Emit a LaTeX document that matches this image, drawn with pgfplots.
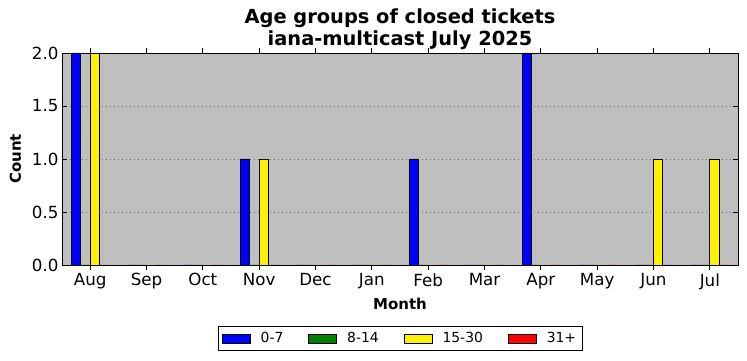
\documentclass[border=0pt]{standalone}
\usepackage{fontspec}
\setmainfont{DejaVu Sans}
\usepackage{pgfplots}
\pgfplotsset{compat=1.18}
\definecolor{bgGray}{RGB}{191,191,191}
\definecolor{mplGreen}{RGB}{0,128,0}
\begin{document}
\begin{tikzpicture}[x=1pt,y=1pt]
\path[use as bounding box] (0,0) rectangle (747,361);
\begin{axis}[
  at={(62pt,96pt)}, anchor=south west,
  scale only axis, width=676pt, height=212pt,
  xmin=-0.5, xmax=11.5, ymin=0, ymax=2,
  axis background/.style={fill=bgGray},
  axis line style={black, line width=0.9pt},
  xtick={0,...,11},
  xticklabels={Aug,Sep,Oct,Nov,Dec,Jan,Feb,Mar,Apr,May,Jun,Jul},
  ytick={0,0.5,1,1.5,2},
  yticklabel style={/pgf/number format/.cd, fixed, fixed zerofill, precision=1, assume math mode=true},
  tick label style={font=\fontsize{16.7}{18}\selectfont},
  tick align=inside, major tick length=5pt,
  tick style={black, line width=0.8pt},
  xtick pos=both, ytick pos=both,
  ymajorgrids, grid style={dash pattern=on 1pt off 3pt, gray!80!black, line width=0.6pt},
  xlabel={Month}, ylabel={Count},
  label style={font=\bfseries\fontsize{15}{17}\selectfont},
  xlabel style={yshift=-2pt},
  ylabel style={yshift=4pt},
  title={Age groups of closed tickets\\iana-multicast July 2025},
  title style={font=\bfseries\fontsize{19.4}{22}\selectfont, align=center, yshift=-6pt},
  ybar, bar width=0.1667,
  legend style={at={(0.5,-0.347)}, anchor=center, legend columns=4, draw=black, line width=0.8pt,
    font=\fontsize{13.9}{16}\selectfont, inner xsep=4pt, inner ysep=4pt,
    /tikz/every odd column/.append style={column sep=8pt},
    /tikz/every even column/.append style={column sep=23pt}},
  legend image code/.code={\draw[#1, line width=0.8pt] (0pt,-4.5pt) rectangle (28pt,4.5pt);},
]
\addplot[fill=blue, draw=black, line width=0.8pt, bar shift=-0.25] coordinates {(0,2) (1,0) (2,0) (3,1) (4,0) (5,0) (6,1) (7,0) (8,2) (9,0) (10,0) (11,0)};
\addplot[fill=mplGreen, draw=black, line width=0.8pt, bar shift=-0.0833] coordinates {(0,0) (1,0) (2,0) (3,0) (4,0) (5,0) (6,0) (7,0) (8,0) (9,0) (10,0) (11,0)};
\addplot[fill=yellow, draw=black, line width=0.8pt, bar shift=0.0833] coordinates {(0,2) (1,0) (2,0) (3,1) (4,0) (5,0) (6,0) (7,0) (8,0) (9,0) (10,1) (11,1)};
\addplot[fill=red, draw=black, line width=0.8pt, bar shift=0.25] coordinates {(0,0) (1,0) (2,0) (3,0) (4,0) (5,0) (6,0) (7,0) (8,0) (9,0) (10,0) (11,0)};
\legend{0-7,8-14,15-30,31+}
\end{axis}
\end{tikzpicture}
\end{document}
